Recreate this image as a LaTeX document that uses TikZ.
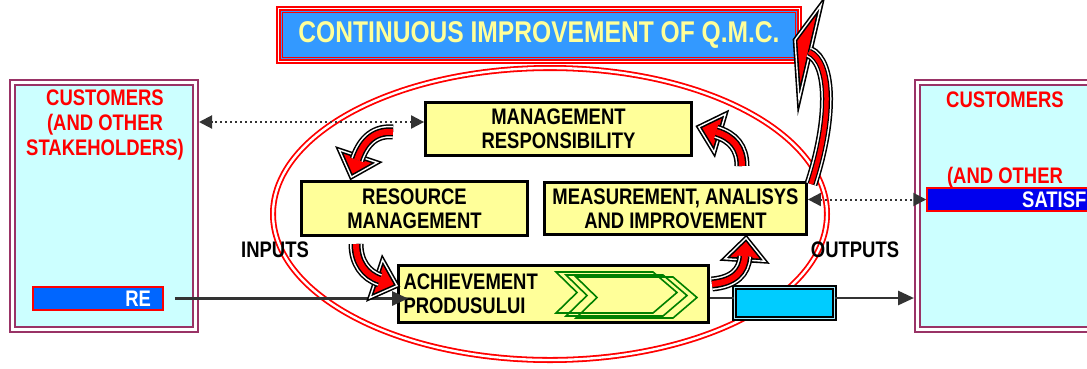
\documentclass[tikz,border=0pt]{standalone}
\usepackage{fontspec}
\setmainfont{Liberation Sans}
\newfontfamily\narrowfont[FakeStretch=0.82]{Liberation Sans}
\usetikzlibrary{arrows.meta, calc}
\definecolor{qmcblue}{HTML}{3399FF}
\definecolor{qmcyellow}{HTML}{FFFF99}
\definecolor{custcyan}{HTML}{CCFFFF}
\definecolor{custframe}{HTML}{993366}
\definecolor{reqblue}{HTML}{0066FF}
\definecolor{satblue}{HTML}{0000EE}
\definecolor{outcyan}{HTML}{00CCFF}
\definecolor{linkgray}{HTML}{333333}
\definecolor{flowgreen}{HTML}{008000}
\tikzset{
  txt/.style={font=\narrowfont\bfseries\fontsize{22.5}{25}\selectfont, align=center, inner sep=0pt},
  custbox/.style={rectangle, draw=custframe, double=white, line width=1.8pt, double distance=3pt,
                  fill=custcyan, minimum width=183pt, minimum height=247pt, outer sep=3.5pt},
  tagbox/.style={rectangle, draw=red, line width=1.5pt, fill=#1, minimum height=23pt,
                 txt, text=white},
  titlebox/.style={rectangle, fill=qmcblue, draw=red, double=white, line width=1.6pt,
                   double distance=1.2pt, minimum width=521pt, minimum height=53pt,
                   text=qmcyellow, font=\narrowfont\bfseries\fontsize{30}{32}\selectfont},
  procbox/.style={rectangle, draw=black, line width=2.8pt, fill=qmcyellow, align=center,
                  inner sep=0pt, font=\narrowfont\bfseries\fontsize{22.5}{24}\selectfont},
  outbox/.style={rectangle, fill=outcyan, draw=black, double=outcyan!35!white, line width=1.5pt,
                 double distance=1.5pt, minimum width=100pt, minimum height=31pt},
  qmcring/.style={draw=red, double=white, line width=1.8pt, double distance=2.4pt},
  chevron/.style={draw=flowgreen, line width=1.6pt, line join=miter},
  dotlink/.style={draw=linkgray, line width=2pt, dash pattern=on 2pt off 3pt,
                  {Triangle[length=13pt,width=13pt]}-{Triangle[length=13pt,width=13pt]}},
  flowlink/.style={draw=linkgray, line width=2.8pt, -{Triangle[length=16pt,width=14pt]}},
  bend layer/.style 2 args={line width=#1, draw=#2, line cap=butt},
  bend head/.style={fill=red, draw=black, double=white, line width=1.6pt,
                    double distance=1.4pt, line join=miter},
}

% curved red arrow: start, control 1, control 2, end of the body
\newcommand{\bendarrow}[4]{%
  \coordinate (ba-tip) at ($(#4)!-18pt!(#3)$);
  \coordinate (ba-base) at ($(#4)!4pt!(#3)$);
  \filldraw[bend head] (ba-tip) -- ($(ba-base)!20pt!90:(#4)$) -- ($(ba-base)!20pt!-90:(#4)$) -- cycle;
  \foreach \w/\c in {15pt/black, 12pt/white, 9pt/black, 6pt/red}
    \draw[bend layer={\w}{\c}] (#1) .. controls (#2) and (#3) .. (#4);
  \fill[red] ($(#4)!12pt!(ba-tip)$) -- ($(#4)!11pt!90:(ba-tip)$) -- ($(#4)!11pt!-90:(ba-tip)$) -- cycle;
}

\begin{document}
\begin{tikzpicture}[x=1pt, y=-1pt]
  \useasboundingbox (0,0) rectangle (1087,368);
  \clip (0,0) rectangle (1087,368);
  \fill[white] (0,0) rectangle (1087,368);

  % customers on both sides
  \node[custbox] (custL) at (104,206) {};
  \node[txt, text=red] (custLtxt) at (105,125) {CUSTOMERS\\(AND OTHER\\STAKEHOLDERS)};
  \node[tagbox=reqblue, minimum width=130pt, text width=106pt, align=right] (re) at (98,298.5) {RE};

  \node[custbox] (custR) at (1009,206) {};
  \node[txt, text=red] (custRtop) at (1005,100) {CUSTOMERS};
  \node[txt, text=red] (custRmid) at (1005,178) {(AND OTHER};
  \node[tagbox=satblue, minimum width=180pt] (satisf) at (1017,199.5) {};
  \node[txt, text=white, anchor=west] (satisftxt) at (1022,200) {SATISF};

  % quality management ring
  \draw[qmcring] (550,214) ellipse [x radius=277, y radius=146];

  \node[titlebox] (title) at (539,35) {CONTINUOUS IMPROVEMENT OF Q.M.C.};
  \draw[red, line width=1.2pt] ([shift={(4.5pt,-4.5pt)}]title.north west)
    rectangle ([shift={(-4.5pt,4.5pt)}]title.south east);

  % processes
  \node[procbox, minimum width=266pt, minimum height=53pt] (mr) at (558.5,129) {MANAGEMENT\\RESPONSIBILITY};
  \node[procbox, minimum width=226pt, minimum height=54pt] (rm) at (414.5,208.5) {RESOURCE\\MANAGEMENT};
  \node[procbox, minimum width=262pt, minimum height=52pt] (mai) at (675.5,208.5) {MEASUREMENT, ANALISYS\\AND IMPROVEMENT};
  \node[procbox, minimum width=310pt, minimum height=57pt, text width=300pt, align=left] (ach) at (553.5,294) {ACHIEVEMENT\\PRODUSULUI};

  \foreach \dx/\dy in {0/0, 10/3, 20/5}
    \draw[chevron] (556+\dx,272+\dy) -- ++(97,0) -- ++(24,20.5) -- ++(-24,20.5)
      -- ++(-97,0) -- ++(21,-20.5) -- cycle;

  % links to the customers
  \draw[dotlink] ([yshift=7pt]mr.west) -- ([yshift=7pt]mr.west -| custL.east);
  \draw[dotlink] (satisf.west -| mai.east) -- (satisf.west);
  \draw[flowlink] ([xshift=11pt]re.east) -- ([xshift=11pt]re.east -| ach.west);
  \node[outbox] (outbox) at (784.5,303) {};
  \draw[draw=linkgray, line width=2.8pt] ([yshift=5pt]outbox.west -| ach.east) -- ([yshift=5pt]outbox.west);
  \draw[flowlink] ([yshift=5pt]outbox.east) -- ([yshift=5pt]outbox.east -| custR.west);

  \node[txt] (inputs) at (275,250) {INPUTS};
  \node[txt] (outputs) at (855,250) {OUTPUTS};

  % the cycle
  \bendarrow{393,132}{372,130}{362,145}{357,160}
  \bendarrow{356,244}{356,262}{365,275}{380,280}
  \bendarrow{712,284}{734,282}{744,272}{745,256}
  \bendarrow{742,166}{742,148}{733,137}{716,132}

  % up to continuous improvement
  \filldraw[bend head] (795,40) -- (821,5) -- (799,100) -- cycle;
  \foreach \w/\c in {13pt/black, 10pt/white, 7pt/black, 4.5pt/red}
    \draw[bend layer={\w}{\c}] (811,184) .. controls (832,120) and (832,62) .. (809,52);
  \fill[red] (799.5,43.6) -- (813.8,24.4) -- (801.7,76.6) -- cycle;
\end{tikzpicture}
\end{document}
